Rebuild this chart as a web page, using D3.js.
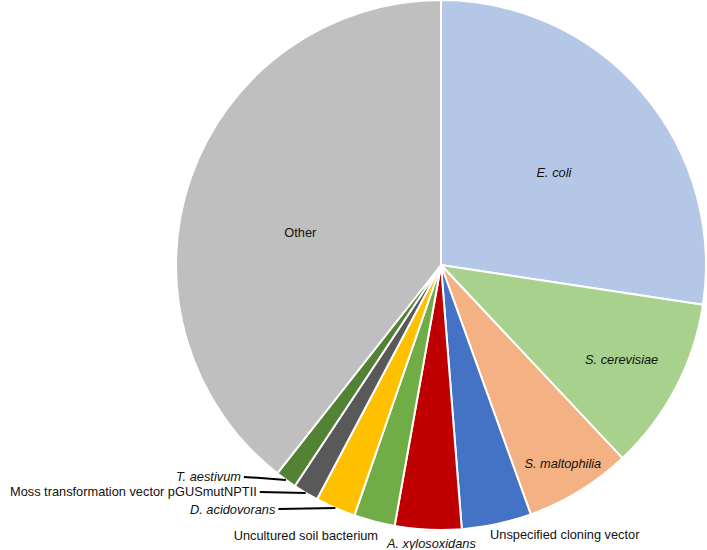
<!DOCTYPE html>
<html>
<head>
<meta charset="utf-8">
<script src="https://cdn.jsdelivr.net/npm/d3@7"></script>
<style>
    html, body { margin: 0; padding: 0; background: #fff; }
    .content { width: 707px; height: 550px; }
    text { font-family: "Liberation Sans", Arial, sans-serif; font-size: 12.8px; fill: #111; }
</style>
</head>
<body>
<div class="content"></div>
<script>
// categories, clockwise from 12 o'clock
const categories = [
    'E. coli', 'S. cerevisiae', 'S. maltophilia', 'Unspecified cloning vector',
    'A. xylosoxidans', 'Uncultured soil bacterium', 'D. acidovorans',
    'Moss transformation vector pGUSmutNPTII', 'T. aestivum', 'Other'
];
// share of sequences, %
const shares = [27.4, 10.6, 6.5, 4.25, 4.05, 2.5, 2.45, 1.55, 1.3, 39.4];
const italicNames = [true, true, true, false, true, false, true, false, true, false];

const colors = ['#b4c7e7', '#a9d18e', '#f4b183', '#4472c4', '#c00000',
    '#70ad47', '#ffc000', '#595959', '#548235', '#bfbfbf'];

// label layout: mode, radius factor, angle shift (deg), leader length, y nudge
const labelLayout = [
    {mode: 'in', r: 0.55, da: 1.5},
    {mode: 'in', r: 0.77, da: 0},
    {mode: 'in', r: 0.88, da: 0},
    {mode: 'out', r: 1.12, da: -12.5},
    {mode: 'out', r: 1.05, da: -0.8},
    {mode: 'out', r: 1.14, da: 12},
    {mode: 'lead', line: 57, dy: 1},
    {mode: 'lead', line: 46, dy: -1},
    {mode: 'lead', line: 42, dy: -3},
    {mode: 'in', r: 0.545, da: -6}
];

(function () {
    let width = 707, height = 550;
    let cx = 441, cy = 265, radius = 265;

    let svg = d3.select('.content').append('svg')
        .attr('width', width)
        .attr('height', height);

    let g = svg.append('g')
        .attr('transform', 'translate(' + cx + ',' + cy + ')');

    let data = categories.map(function (c, i) {
        return {name: c, value: shares[i], italic: italicNames[i], color: colors[i], lay: labelLayout[i]};
    });

    let pie = d3.pie()
        .sort(null)
        .value(function (d) { return d.value; });

    let arc = d3.arc()
        .innerRadius(0)
        .outerRadius(radius);

    let arcs = pie(data);

    g.selectAll('.slice')
        .data(arcs)
        .enter()
        .append('path')
        .attr('class', 'slice')
        .attr('d', arc)
        .attr('fill', function (d) { return d.data.color; })
        .attr('stroke', '#fff')
        .attr('stroke-width', 2)
        .attr('stroke-linejoin', 'round');

    let mid = function (d) { return (d.startAngle + d.endAngle) / 2; };

    // labels inside and just outside the pie
    arcs.forEach(function (d) {
        let lay = d.data.lay;
        if (lay.mode === 'lead') return;
        let a = mid(d) + lay.da * Math.PI / 180;
        let p = d3.pointRadial(a, radius * lay.r);
        g.append('text')
            .attr('x', p[0])
            .attr('y', p[1])
            .attr('text-anchor', 'middle')
            .attr('dominant-baseline', 'central')
            .style('font-style', d.data.italic ? 'italic' : 'normal')
            .text(d.data.name);
    });

    // labels with leader lines (small slices on the lower left)
    arcs.forEach(function (d) {
        let lay = d.data.lay;
        if (lay.mode !== 'lead') return;
        let p = d3.pointRadial(mid(d), radius);
        let x0 = p[0] - lay.line;
        let ty = p[1] + lay.dy;
        g.append('line')
            .attr('x1', p[0])
            .attr('y1', p[1])
            .attr('x2', x0)
            .attr('y2', ty)
            .attr('stroke', '#000')
            .attr('stroke-width', 2);
        g.append('text')
            .attr('x', x0 - 3)
            .attr('y', ty)
            .attr('text-anchor', 'end')
            .attr('dominant-baseline', 'central')
            .style('font-style', d.data.italic ? 'italic' : 'normal')
            .text(d.data.name);
    });
})();
</script>
</body>
</html>
